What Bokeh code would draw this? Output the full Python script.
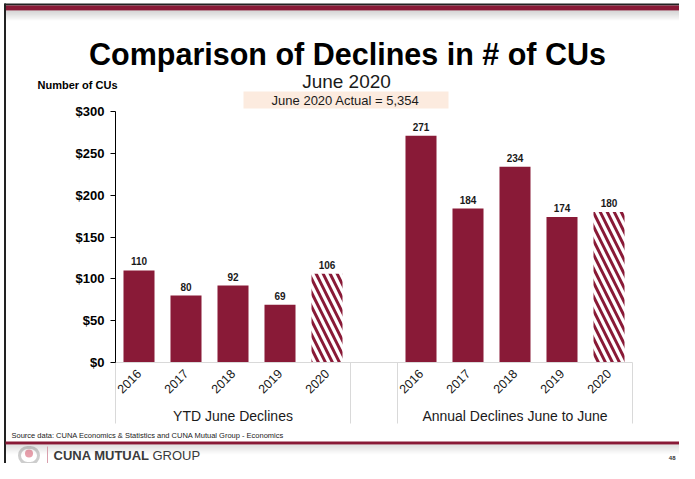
import math
from bokeh.plotting import figure
from bokeh.models import (Range1d, ColumnDataSource, LabelSet, Label, LinearAxis,
                          BoxAnnotation, NumeralTickFormatter, FixedTicker)
from bokeh.core.properties import value
from bokeh.embed import file_html
from bokeh.resources import INLINE

# ---------------- data ----------------
groups = ["YTD June Declines", "Annual Declines June to June"]
years = ["2016", "2017", "2018", "2019", "2020"]
ytd_declines = [110, 80, 92, 69, 106]
annual_declines = [271, 184, 234, 174, 180]
hatched_year = "2020"          # current (partial) year shown hatched
y_ticks = [0, 50, 100, 150, 200, 250, 300]
title_text = "Comparison of Declines in # of CUs"
subtitle_text = "June 2020"
actual_text = "June 2020 Actual = 5,354"
y_label_text = "Number of CUs"
source_text = "Source data: CUNA Economics & Statistics and CUNA Mutual Group - Economics"

# ---------------- layout / styling ----------------
MAROON = "#891A37"
FONT = "Liberation Sans"
W, H = 679, 463
AX_L, AX_R, AX_T, AX_B = 115, 632, 111, 362   # chart area in canvas px
YMAX = 300
n = len(years)
slots = len(groups) * n + (len(groups) - 1)     # one empty slot between groups
unit = (AX_R - AX_L) / slots
ppu = (AX_B - AX_T) / YMAX

x_start = -AX_L / unit
x_end = slots + (W - AX_R) / unit
y_start = -(H - AX_B) / ppu
y_end = YMAX + AX_T / ppu

def sx(ix):
    return ix

def sy(iy):
    return H - iy

# bar positions (slot centres) derived from the category lists
xs, vals, labs, is_hatch, grp_centers, seps, tick_over = [], [], [], [], [], [], {}
for gi, (g, series) in enumerate(zip(groups, [ytd_declines, annual_declines])):
    off = gi * (n + 1)
    grp_centers.append(off + n / 2)
    seps += [off, off + n]
    for i, (yr, v) in enumerate(zip(years, series)):
        xc = off + i + 0.5
        xs.append(xc)
        vals.append(v)
        labs.append(str(v))
        is_hatch.append(yr == hatched_year)
        tick_over[xc] = yr

src_solid = ColumnDataSource(dict(x=[x for x, h in zip(xs, is_hatch) if not h],
                                  top=[v for v, h in zip(vals, is_hatch) if not h]))
src_hatch = ColumnDataSource(dict(x=[x for x, h in zip(xs, is_hatch) if h],
                                  top=[v for v, h in zip(vals, is_hatch) if h]))
src_all = ColumnDataSource(dict(x=xs, top=vals, lab=labs))

p = figure(width=W, height=H, x_range=Range1d(x_start, x_end), y_range=Range1d(y_start, y_end),
           output_backend="svg", toolbar_location=None,
           x_axis_location=None, y_axis_location=None,
           min_border_left=0, min_border_right=0, min_border_top=0, min_border_bottom=0)
p.outline_line_color = None
p.xgrid.visible = False
p.ygrid.visible = False
p.background_fill_color = "white"
p.border_fill_color = "white"

# ---------------- decorations behind ----------------
def box(x0, y0, x1, y1, color, alpha=1.0, level="underlay"):
    p.add_layout(BoxAnnotation(left=sx(x0), right=sx(x1), top=sy(y0), bottom=sy(y1),
                               left_units="screen", right_units="screen",
                               top_units="screen", bottom_units="screen",
                               fill_color=color, fill_alpha=alpha, line_color=None,
                               level=level))

def label(ix, iy, text, size, style="normal", align="left", color="#1a1a1a"):
    # iy = vertical centre of the capitals
    p.add_layout(Label(x=sx(ix), y=sy(iy), x_units="screen", y_units="screen", text=text,
                       text_font=FONT, text_font_size=size, text_font_style=style,
                       text_align=align, text_baseline="middle", text_color=color))

# slide frame: top band + shading, left border
box(4, 3, W, 5, "#222222")
box(4, 5, W, 10, MAROON)
for i in range(10):
    box(5, 10 + i, W, 11 + i, "#7f7f7f", 0.35 * (1 - i / 10))
box(3.5, 3, 5.5, H, "#222222")
# footer line + shading
box(5, 441, W, 444, MAROON)
for i in range(10):
    box(5.5, 444 + i, W, 445 + i, "#8c8c8c", 0.28 * (1 - i / 10))

# actual box
box(243, 91, 448, 108, "#FCEBDF")

# ---------------- bars ----------------
p.vbar(x="x", top="top", width=0.66, source=src_solid, fill_color=MAROON, line_color=None)
p.vbar(x="x", top="top", width=0.66, source=src_hatch, fill_color="white", line_color=None,
       hatch_pattern="\\", hatch_color=MAROON, hatch_scale=14, hatch_weight=3)

p.add_layout(LabelSet(x="x", y="top", text="lab", source=src_all, y_offset=5,
                      text_align="center", text_baseline="alphabetic",
                      text_font=value(FONT), text_font_style="bold",
                      text_font_size="10px", text_color="#1a1a1a"))

# group separators below the category axis
sep_bottom = -(423 - AX_B) / ppu
p.segment(x0=seps, y0=[0] * len(seps), x1=seps, y1=[sep_bottom] * len(seps),
          line_color="#d9d9d9", line_width=1)

# ---------------- axes ----------------
ya = LinearAxis(fixed_location=0, bounds=(0, YMAX))
ya.ticker = FixedTicker(ticks=y_ticks)
ya.formatter = NumeralTickFormatter(format="$0")
ya.axis_line_color = "black"
ya.major_tick_line_color = "black"
ya.major_tick_out = 5
ya.major_tick_in = 0
ya.minor_tick_line_color = None
ya.major_label_standoff = 6
ya.major_label_text_font = FONT
ya.major_label_text_font_style = "bold"
ya.major_label_text_font_size = "13px"
ya.major_label_text_color = "black"
p.add_layout(ya, "left")

xa = LinearAxis(fixed_location=0, bounds=(0, slots))
xa.ticker = FixedTicker(ticks=xs)
xa.major_label_overrides = tick_over
xa.axis_line_color = "#d9d9d9"
xa.major_tick_line_color = None
xa.major_tick_out = 0
xa.major_tick_in = 0
xa.minor_tick_line_color = None
xa.major_label_orientation = math.pi / 4
xa.major_label_standoff = 9
xa.major_label_text_font = FONT
xa.major_label_text_font_size = "12.5px"
xa.major_label_text_color = "#1a1a1a"
p.add_layout(xa, "below")

# group labels
for g, c in zip(groups, grp_centers):
    p.add_layout(Label(x=c, y=sy(415.5), x_units="data", y_units="screen", text=g,
                       text_font=FONT, text_font_size="14px", text_align="center",
                       text_baseline="middle", text_color="#1a1a1a"))

# ---------------- texts ----------------
label(347, 53.5, title_text, "30.5px", "bold", "center", "black")
label(346, 81, subtitle_text, "19px", "normal", "center", "#1a1a1a")
label(345, 99.5, actual_text, "13px", "normal", "center", "#1a1a1a")
label(77, 84.5, y_label_text, "11px", "bold", "center", "black")
label(11, 435, source_text, "7.5px", "normal", "left", "#222222")

# logo
p.add_layout(BoxAnnotation(left=sx(19), right=sx(38), top=sy(447), bottom=sy(463),
                           left_units="screen", right_units="screen",
                           top_units="screen", bottom_units="screen",
                           fill_alpha=0, line_color="#5a5a5a", line_width=3,
                           border_radius=8))
p.add_layout(BoxAnnotation(left=sx(24.5), right=sx(32.5), top=sy(449), bottom=sy(457),
                           left_units="screen", right_units="screen",
                           top_units="screen", bottom_units="screen",
                           fill_color="#C4122F", line_color=None, border_radius=4))
box(46.5, 446, 47.5, 463, "#d9a0ad", level="annotation")
label(53, 455, "CUNA MUTUAL", "13px", "bold", "left", "#3a3a3a")
label(152, 455, "GROUP", "13px", "normal", "left", "#3a3a3a")
label(675, 457, "48", "6px", "bold", "right", "#333333")

open("out.html", "w").write(file_html(p, INLINE))
